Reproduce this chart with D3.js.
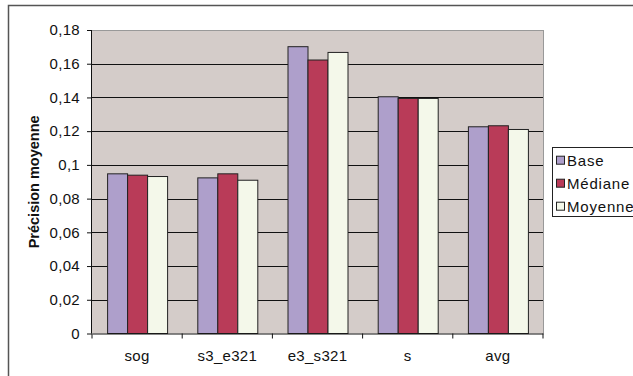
<!DOCTYPE html>
<html><head><meta charset="utf-8">
<script src="https://cdn.jsdelivr.net/npm/d3@7"></script>
<style>body{margin:0;background:#fff}svg{display:block}text{font-family:"Liberation Sans",Arial,sans-serif}</style>
</head><body><svg id="c" width="633" height="376"></svg>
<script>
const categories = ["sog","s3_e321","e3_s321","s","avg"];
const seriesNames = ["Base","Médiane","Moyenne"];
const base    = [0.0947,0.0923,0.1701,0.1404,0.1226];
const mediane = [0.0939,0.0947,0.1622,0.1394,0.1232];
const moyenne = [0.0931,0.0909,0.1667,0.1394,0.1210];
const yTicks = [0,0.02,0.04,0.06,0.08,0.1,0.12,0.14,0.16,0.18];
const yTickLabels = ["0","0,02","0,04","0,06","0,08","0,1","0,12","0,14","0,16","0,18"];
const colors = ["#AE9FCB","#B93B58","#F4F8EA"];
const series = [base, mediane, moyenne];

const svg = d3.select("#c");
const L=92, R=543, T=30, B=333.5;
svg.append("path").attr("d","M8.5,376 V5.5 H633").attr("fill","none").attr("stroke","#555").attr("stroke-width",1.5);

const x = d3.scaleBand().domain(categories).range([L,R]).paddingInner(0).paddingOuter(0);
const y = d3.scaleLinear().domain([0,0.18]).range([B,T]);
const xInner = d3.scaleBand().domain(d3.range(3)).range([x.bandwidth()/2-30, x.bandwidth()/2+30]).padding(0);

svg.append("rect").attr("x",L).attr("y",T).attr("width",R-L).attr("height",B-T).attr("fill","#D4CCC9");
svg.append("g").selectAll("line").data(yTicks.slice(1)).join("line")
  .attr("x1",L).attr("x2",R).attr("y1",d=>Math.round(y(d))+0.5).attr("y2",d=>Math.round(y(d))+0.5)
  .attr("stroke","#111").attr("stroke-width",1);
svg.append("line").attr("x1",R+0.5).attr("x2",R+0.5).attr("y1",T).attr("y2",B).attr("stroke","#999");
svg.append("line").attr("x1",L).attr("x2",R).attr("y1",T+0.5).attr("y2",T+0.5).attr("stroke","#999");

const g = svg.append("g");
series.forEach((s,si)=>{
  g.selectAll(null).data(s).join("rect")
   .attr("x",(d,i)=>x(categories[i])+xInner(si)+0.5)
   .attr("y",d=>y(d))
   .attr("width",xInner.bandwidth())
   .attr("height",d=>B-y(d))
   .attr("fill",colors[si]).attr("stroke","#222").attr("stroke-width",1);
});

const ya = svg.append("g").attr("transform",`translate(${L},0)`)
  .call(d3.axisLeft(y).tickValues(yTicks).tickFormat((d,i)=>yTickLabels[i]).tickSize(5).tickPadding(7));
ya.select(".domain").attr("stroke","#111").attr("d",`M-0.5,${T}V${B}`);
ya.selectAll(".tick line").attr("stroke","#111");
ya.selectAll("text").attr("font-size",15).attr("fill","#111").attr("letter-spacing",0.3).attr("font-family","Liberation Sans, Arial, sans-serif");

const xa = svg.append("g").attr("transform",`translate(0,${B})`)
  .call(d3.axisBottom(x).tickSize(0).tickPadding(17));
xa.select(".domain").attr("stroke","#111");
xa.selectAll("text").attr("font-size",15).attr("fill","#111").attr("letter-spacing",0.3).attr("font-family","Liberation Sans, Arial, sans-serif");
svg.append("g").selectAll("line").data(d3.range(categories.length+1)).join("line")
  .attr("x1",i=>L+i*x.step()).attr("x2",i=>L+i*x.step()).attr("y1",B).attr("y2",B+5).attr("stroke","#111");

svg.append("text").attr("transform",`translate(39,${(111.7+252)/2}) rotate(-90)`)
  .attr("text-anchor","middle").attr("font-size",14.5).attr("font-weight","bold").attr("fill","#111")
  .text("Précision moyenne");

const lg = svg.append("g");
lg.append("rect").attr("x",552.5).attr("y",147.5).attr("width",100).attr("height",69).attr("fill","#fff").attr("stroke","#222");
seriesNames.forEach((n,i)=>{
  const cy = 160.7 + i*23;
  lg.append("rect").attr("x",556.5).attr("y",cy-4.5).attr("width",8).attr("height",8).attr("fill",colors[i]).attr("stroke","#222");
  lg.append("text").attr("x",567).attr("y",cy+5.5).attr("font-size",15).attr("letter-spacing",0.8).attr("fill","#111").text(n);
});
</script></body></html>
